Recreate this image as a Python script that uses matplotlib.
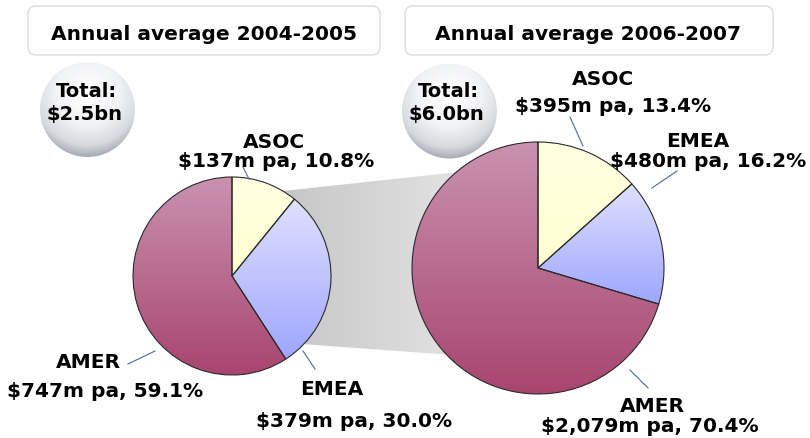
import numpy as np
import matplotlib
matplotlib.use("Agg")
import matplotlib.pyplot as plt
from matplotlib.colors import LinearSegmentedColormap
from matplotlib.patches import FancyBboxPatch, Circle, Polygon

## Chart values
regions = ["ASOC", "EMEA", "AMER"]
titles = ["Annual average 2004-2005", "Annual average 2006-2007"]
totals = ["$2.5bn", "$6.0bn"]
values_0405 = [137, 379, 747]
values_0607 = [395, 480, 2079]
pct_0405 = [10.8, 30.0, 59.1]
pct_0607 = [13.4, 16.2, 70.4]

W, H = 810, 439
FONT = "DejaVu Sans"
FS = 14.5

## slice colours, top and bottom of the gradient
slice_colors = {
    "ASOC": ("#ffffe2", "#ffffd0"),
    "EMEA": ("#e0e0ff", "#9ea6fd"),
    "AMER": ("#ca92b0", "#a8456f"),
}


def P(y):
    ## picture y (down) to axes y (up)
    return H - y


def fill_gradient(ax, patch, top, bottom, zorder, horizontal=False):
    x0, y0, x1, y1 = patch.get_path().get_extents().extents
    if horizontal:
        x0, x1 = patch.gx
        grad = np.linspace(0, 1, 256)[None, :]
    else:
        grad = np.linspace(0, 1, 256)[:, None]
    cmap = LinearSegmentedColormap.from_list("g", [top, bottom])
    im = ax.imshow(grad, extent=(x0, x1, y0, y1), origin="upper", cmap=cmap,
                   aspect="auto", zorder=zorder, interpolation="bilinear")
    im.set_clip_path(patch)


def draw_pie(ax, values, center, radius):
    wedges, _ = ax.pie(values, center=center, radius=radius, startangle=90,
                       counterclock=False,
                       wedgeprops=dict(edgecolor="#2a2a2a", linewidth=0.8,
                                       facecolor="none", zorder=5))
    for w, name in zip(wedges, regions):
        top, bottom = slice_colors[name]
        fill_gradient(ax, w, top, bottom, zorder=4)
    return wedges


def draw_bubble(ax, cx, cy, r):
    circ = Circle((cx, cy), r, facecolor="none", edgecolor="none", zorder=3)
    ax.add_patch(circ)
    n = 200
    xs = np.linspace(-1, 1, n)
    X, Y = np.meshgrid(xs, xs[::-1])
    d = np.sqrt(X ** 2 + (Y - 0.35) ** 2) / 1.35
    d = np.clip(d, 0, 1)
    cmap = LinearSegmentedColormap.from_list(
        "b", [(0, "#ffffff"), (0.5, "#f2f3f5"), (0.82, "#d6d9de"), (1, "#a6aab3")])
    im = ax.imshow(d, extent=(cx - r, cx + r, cy - r, cy + r), cmap=cmap,
                   origin="upper", zorder=3, interpolation="bilinear")
    im.set_clip_path(circ)


def label(ax, x, y, s, size=FS):
    ax.text(x, P(y), s, ha="center", va="baseline", fontsize=size,
            fontweight="bold", family=FONT, color="black", zorder=10)


def leader(ax, p0, p1):
    ax.plot([p0[0], p1[0]], [P(p0[1]), P(p1[1])], color="#4d6a9c",
            linewidth=0.8, zorder=6)


def main():
    fig = plt.figure(figsize=(W / 100, H / 100), dpi=100)
    ax = fig.add_axes([0, 0, 1, 1])

    ## title boxes
    for (x0, x1), t, tx in zip([(28, 380), (405, 773)], titles, [204, 588]):
        box = FancyBboxPatch((x0, P(56)), x1 - x0, 49,
                             boxstyle="round,pad=0,rounding_size=8",
                             facecolor="white", edgecolor="#dcdcdc",
                             linewidth=1.0, zorder=2)
        ax.add_patch(box)
        label(ax, tx, 40, t)

    ## gray band joining the two pies
    band = Polygon([(260, P(194.5)), (480, P(170.7)), (480, P(358)), (260, P(342))],
                   closed=True, facecolor="none", edgecolor="none", zorder=1)
    ax.add_patch(band)
    band.gx = (260, 480)
    fill_gradient(ax, band, "#c2c2c2", "#e6e6e6", zorder=1, horizontal=True)

    draw_pie(ax, values_0405, (232, P(277)), 99)
    draw_pie(ax, values_0607, (538, P(269)), 126)

    ## total bubbles
    draw_bubble(ax, 87.5, P(110.5), 47.5)
    label(ax, 86, 97, "Total:", 14)
    label(ax, 85, 120, totals[0], 14)
    draw_bubble(ax, 449.5, P(112), 47.5)
    label(ax, 448, 97, "Total:", 14)
    label(ax, 446, 120, totals[1], 14)

    ## slice labels: (name line x, y), (value line x, y)
    pos_0405 = [((274, 148), (276, 167)), ((332, 395), (354, 427)), ((88, 368), (105, 397))]
    pos_0607 = [((603, 85), (613, 112)), ((698, 147), (708, 167)), ((652, 412), (650, 432))]
    for values, pcts, pos in [(values_0405, pct_0405, pos_0405), (values_0607, pct_0607, pos_0607)]:
        for name, v, p, (a, b) in zip(regions, values, pcts, pos):
            label(ax, a[0], a[1], name)
            label(ax, b[0], b[1], "${:,}m pa, {:.1f}%".format(v, p))

    leader(ax, (243, 168), (249, 180))
    leader(ax, (303, 352), (315, 370))
    leader(ax, (128, 365), (155, 352))
    leader(ax, (570, 118), (583, 147))
    leader(ax, (677, 172), (652, 189))
    leader(ax, (630, 371), (648, 389))

    ax.set_xlim(0, W)
    ax.set_ylim(0, H)
    ax.set_aspect("auto")
    ax.axis("off")
    fig.savefig("out.png", dpi=100, facecolor="white")


if __name__ == "__main__":
    main()
